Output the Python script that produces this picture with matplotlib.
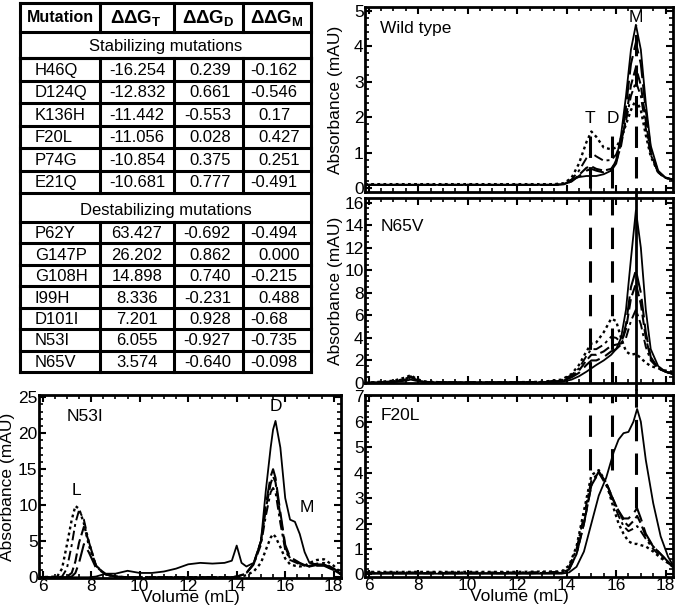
import matplotlib
matplotlib.use('Agg')
import matplotlib.pyplot as plt
from matplotlib.ticker import MultipleLocator, AutoMinorLocator

plt.rcParams['font.family'] = ['Liberation Sans', 'DejaVu Sans']
plt.rcParams['mathtext.fontset'] = 'custom'
plt.rcParams['mathtext.rm'] = 'Liberation Sans'
plt.rcParams['mathtext.bf'] = 'Liberation Sans:bold'

# ---- table data ----
stab_names = ['H46Q', 'D124Q', 'K136H', 'F20L', 'P74G', 'E21Q']
stab_t = ['-16.254', '-12.832', '-11.442', '-11.056', '-10.854', '-10.681']
stab_d = ['0.239', '0.661', '-0.553', '0.028', '0.375', '0.777']
stab_m = ['-0.162', '-0.546', '0.17', '0.427', '0.251', '-0.491']
destab_names = ['P62Y', 'G147P', 'G108H', 'I99H', 'D101I', 'N53I', 'N65V']
destab_t = ['63.427', '26.202', '14.898', '8.336', '7.201', '6.055', '3.574']
destab_d = ['-0.692', '0.862', '0.740', '-0.231', '0.928', '-0.927', '-0.640']
destab_m = ['-0.494', '0.000', '-0.215', '0.488', '-0.68', '-0.735', '-0.098']

# ---- chromatograms (volume in mL, absorbance in mAU) ----
wt_x = [5.85, 8, 10, 12, 13.5, 13.9, 14.2, 14.5, 14.8, 15.0, 15.2, 15.5, 15.8, 16.0,
        16.2, 16.4, 16.6, 16.8, 17.0, 17.2, 17.4, 17.7, 18.0, 18.3]
wt_y = [
    [0.1, 0.1, 0.1, 0.1, 0.1, 0.12, 0.25, 0.32, 0.35, 0.35, 0.35, 0.4, 0.5, 0.8,
     1.5, 2.6, 3.9, 4.6, 3.9, 2.4, 1.2, 0.5, 0.3, 0.25],
    [0.1, 0.1, 0.1, 0.1, 0.1, 0.12, 0.2, 0.35, 0.5, 0.55, 0.5, 0.45, 0.5, 0.7,
     1.3, 2.3, 3.5, 4.1, 3.5, 2.2, 1.1, 0.45, 0.3, 0.25],
    [0.1, 0.1, 0.1, 0.1, 0.1, 0.12, 0.2, 0.38, 0.58, 0.62, 0.55, 0.5, 0.55, 0.75,
     1.2, 2.0, 2.9, 3.4, 2.9, 1.9, 1.0, 0.45, 0.3, 0.25],
    [0.1, 0.1, 0.1, 0.1, 0.1, 0.13, 0.25, 0.5, 0.85, 1.0, 0.9, 0.78, 0.8, 0.95,
     1.3, 1.9, 2.6, 3.0, 2.6, 1.7, 0.95, 0.45, 0.3, 0.25],
    [0.12, 0.12, 0.12, 0.12, 0.12, 0.15, 0.3, 0.7, 1.3, 1.6, 1.45, 1.15, 1.1, 1.15,
     1.4, 1.8, 2.2, 2.5, 2.2, 1.5, 0.9, 0.45, 0.3, 0.25],
]

n65_x = [5.85, 7.0, 7.5, 7.7, 7.9, 8.2, 9, 11, 13, 13.8, 14.2, 14.5, 14.8, 15.0, 15.2,
         15.5, 15.8, 16.0, 16.2, 16.4, 16.6, 16.8, 17.0, 17.2, 17.4, 17.7, 18.0, 18.3]
n65_y = [
    [0, 0.1, 0.2, 0.3, 0.2, 0.1, 0.05, 0.05, 0.05, 0.1, 0.3, 0.6, 1.0, 1.3, 1.6,
     2.0, 2.5, 3.0, 4.0, 6.5, 11.0, 15.3, 12.0, 6.5, 3.0, 1.5, 1.0, 0.8],
    [0, 0.1, 0.3, 0.5, 0.3, 0.1, 0.05, 0.05, 0.05, 0.15, 0.5, 0.9, 1.6, 2.0, 2.0,
     2.3, 2.8, 3.0, 3.4, 5.2, 8.5, 10.0, 8.0, 4.5, 2.3, 1.3, 1.0, 0.8],
    [0, 0.1, 0.3, 0.5, 0.3, 0.1, 0.05, 0.05, 0.05, 0.2, 0.6, 1.1, 2.0, 2.5, 2.5,
     2.8, 3.3, 3.4, 3.5, 4.8, 7.5, 8.8, 7.0, 4.0, 2.2, 1.3, 1.0, 0.8],
    [0, 0.15, 0.4, 0.6, 0.35, 0.1, 0.05, 0.05, 0.1, 0.25, 0.7, 1.3, 2.4, 3.0, 3.0,
     3.4, 4.1, 4.0, 3.6, 4.0, 5.5, 6.5, 5.2, 3.2, 2.0, 1.3, 1.0, 0.8],
    [0, 0.2, 0.5, 0.7, 0.4, 0.15, 0.05, 0.05, 0.1, 0.3, 0.8, 1.6, 2.8, 3.5, 3.6,
     4.5, 5.7, 5.5, 4.0, 2.8, 2.5, 2.6, 2.2, 1.8, 1.5, 1.3, 1.1, 1.0],
]

n53_x = [5.85, 6.6, 6.8, 7.0, 7.2, 7.35, 7.5, 7.7, 7.9, 8.2, 8.6, 9.0, 9.5, 10.0, 10.5,
         11.0, 11.5, 12.0, 12.5, 13.0, 13.5, 13.8, 14.0, 14.2, 14.4, 14.7, 15.0, 15.2,
         15.4, 15.5, 15.6, 15.8, 16.0, 16.2, 16.4, 16.6, 16.8, 17.0, 17.3, 17.6, 18.0, 18.3]
n53_y = [
    [0, 0, 0, 0, 0, 0, 0, 0, 0, 0.1, 0.5, 0.5, 0.9, 0.6, 0.6,
     0.8, 1.2, 1.8, 2.0, 1.9, 2.0, 2.3, 4.4, 2.0, 1.5, 2.0, 5.0, 12.0,
     18.0, 20.5, 21.7, 18.0, 11.0, 8.0, 7.7, 6.0, 3.5, 2.0, 1.8, 1.8, 1.2, 0.5],
    [0, 0, 0, 0, 0.1, 0.6, 2.0, 4.6, 3.5, 1.3, 0.4, 0.1, 0, 0, 0,
     0, 0, 0, 0, 0, 0, 0, 0.1, 0.3, 0.6, 1.8, 5.0, 10.0,
     14.0, 15.0, 13.8, 9.0, 4.5, 2.8, 2.4, 2.0, 1.7, 1.5, 1.6, 1.6, 1.0, 0.4],
    [0, 0, 0, 0.1, 0.6, 2.2, 4.8, 7.0, 5.0, 1.6, 0.4, 0.1, 0, 0, 0,
     0, 0, 0, 0, 0, 0, 0, 0.1, 0.3, 0.6, 1.9, 5.0, 9.5,
     13.0, 14.0, 13.2, 8.5, 4.2, 2.6, 2.3, 1.9, 1.7, 1.5, 1.7, 1.7, 1.0, 0.4],
    [0, 0, 0.1, 1.2, 4.5, 7.5, 9.3, 8.0, 5.0, 1.6, 0.4, 0.1, 0, 0, 0,
     0, 0, 0, 0, 0, 0, 0, 0.1, 0.3, 0.6, 1.8, 4.5, 8.5,
     11.8, 12.4, 11.8, 7.5, 3.8, 2.4, 2.1, 1.8, 1.6, 1.6, 1.9, 2.0, 1.2, 0.5],
    [0, 0.1, 1.2, 4.5, 8.0, 9.9, 9.5, 7.5, 4.5, 1.5, 0.4, 0.1, 0, 0, 0,
     0, 0, 0, 0, 0, 0, 0, 0, 0.1, 0.3, 0.8, 2.0, 3.8,
     5.5, 6.0, 5.6, 4.2, 2.6, 1.8, 1.6, 1.5, 1.6, 2.0, 2.4, 2.5, 1.6, 0.6],
]

f20_x = [5.85, 8, 10, 12, 13.8, 14.1, 14.4, 14.7, 15.0, 15.3, 15.6, 15.9, 16.1, 16.3,
         16.5, 16.7, 16.85, 17.0, 17.2, 17.5, 17.8, 18.1, 18.3]
f20_y = [
    [0.03, 0.03, 0.03, 0.03, 0.03, 0.08, 0.3, 0.9, 2.0, 3.1, 3.8, 4.8, 5.3, 5.55,
     5.6, 6.0, 6.5, 6.0, 4.5, 2.8, 1.5, 0.7, 0.35],
    [0.05, 0.05, 0.05, 0.05, 0.06, 0.2, 0.8, 2.0, 3.5, 4.05, 3.6, 2.9, 2.5, 2.2,
     2.2, 2.4, 2.6, 2.2, 1.6, 1.1, 0.8, 0.5, 0.3],
    [0.05, 0.05, 0.05, 0.05, 0.06, 0.2, 0.8, 2.0, 3.5, 4.0, 3.6, 2.9, 2.5, 2.1,
     1.9, 2.1, 2.3, 2.0, 1.5, 1.1, 0.8, 0.5, 0.3],
    [0.08, 0.08, 0.08, 0.08, 0.1, 0.3, 1.0, 2.3, 3.7, 4.0, 3.5, 2.8, 2.3, 1.9,
     1.7, 1.8, 1.9, 1.7, 1.4, 1.0, 0.7, 0.45, 0.3],
    [0.1, 0.1, 0.1, 0.1, 0.12, 0.35, 1.1, 2.5, 3.9, 4.1, 3.6, 2.6, 2.0, 1.6,
     1.3, 1.2, 1.2, 1.15, 1.1, 0.9, 0.65, 0.45, 0.3],
]

peaks = {'T': 14.95, 'D': 15.85, 'M': 16.8}

styles = ['-', (0, (9, 3)), (0, (5, 2)), (0, (5, 2, 1.5, 2)), (0, (1.2, 1.4))]
widths = [1.3, 1.5, 1.5, 1.4, 1.7]

W, H = 678, 611
fig = plt.figure(figsize=(W / 100, H / 100), dpi=100)

def px_axes(l, t, r, b):
    return fig.add_axes([l / W, 1 - b / H, (r - l) / W, (b - t) / H])

def style_axes(ax, ymax, ystep, yminor, ymin=0):
    ax.set_xlim(5.85, 18.3)
    ax.set_ylim(ymin, ymax)
    ax.xaxis.set_major_locator(MultipleLocator(2))
    ax.xaxis.set_minor_locator(AutoMinorLocator(4))
    ax.yaxis.set_major_locator(MultipleLocator(ystep))
    ax.yaxis.set_minor_locator(AutoMinorLocator(yminor))
    ax.tick_params(which='both', direction='in', top=True, right=True, labelsize=12.5, pad=1)
    ax.tick_params(which='major', length=5, width=1.5)
    ax.tick_params(which='minor', length=3, width=1.2)
    for s in ax.spines.values():
        s.set_linewidth(2)

def draw_curves(ax, xs, ys):
    for y, ls, lw in zip(ys, styles, widths):
        ax.plot(xs, y, color='black', linestyle=ls, linewidth=lw)

# wild type
ax1 = px_axes(365, 7, 673, 192)
draw_curves(ax1, wt_x, wt_y)
style_axes(ax1, 5.1, 1, 5, ymin=-0.1)
ax1.set_xticklabels([])
ax1.vlines([peaks['T'], peaks['D']], 0, [1.6, 1.55], colors='black', linestyles=(0, (7, 3)), linewidth=2.2)
ax1.vlines(peaks['M'], 0.3, 4.6, colors='black', linestyles=(0, (7, 3)), linewidth=2.2)
ax1.text(peaks['T'], 1.75, 'T', ha='center', va='bottom', fontsize=12.5)
ax1.text(peaks['D'], 1.75, 'D', ha='center', va='bottom', fontsize=12.5)
ax1.text(peaks['M'], 4.6, 'M', ha='center', va='bottom', fontsize=12.5)
ax1.text(0.05, 0.86, 'Wild type', transform=ax1.transAxes, fontsize=12.5)
ax1.set_ylabel('Absorbance (mAU)', fontsize=12.5)
ax1.yaxis.set_label_coords(-0.073, 0.5)

# N65V
ax2 = px_axes(365, 198, 673, 383)
draw_curves(ax2, n65_x, n65_y)
style_axes(ax2, 16.4, 2, 4)
ax2.set_xticklabels([])
ax2.axvline(peaks['T'], color='black', linestyle=(0, (7, 4)), linewidth=2.2)
ax2.axvline(peaks['D'], color='black', linestyle=(0, (7, 4)), linewidth=2.2)
ax2.axvline(peaks['M'], ymin=-0.03, ymax=1.05, color='black', linewidth=2, clip_on=False)
ax2.text(0.05, 0.82, 'N65V', transform=ax2.transAxes, fontsize=12.5)
ax2.set_ylabel('Absorbance (mAU)', fontsize=12.5)
ax2.yaxis.set_label_coords(-0.073, 0.5)

# N53I
ax3 = px_axes(39, 395, 341, 578)
draw_curves(ax3, n53_x, n53_y)
style_axes(ax3, 25.3, 5, 5, ymin=-0.1)
ax3.text(7.4, 11.0, 'L', ha='center', va='bottom', fontsize=12.5)
ax3.text(15.6, 22.6, 'D', ha='center', va='bottom', fontsize=12.5)
ax3.text(16.9, 8.7, 'M', ha='center', va='bottom', fontsize=12.5)
ax3.text(0.09, 0.86, 'N53I', transform=ax3.transAxes, fontsize=12.5)
ax3.set_ylabel('Absorbance (mAU)', fontsize=12.5)
ax3.yaxis.set_label_coords(-0.078, 0.5)
ax3.set_xlabel('Volume (mL)', fontsize=12.5, labelpad=-3)

# F20L
ax4 = px_axes(365, 395, 673, 577)
draw_curves(ax4, f20_x, f20_y)
style_axes(ax4, 7.05, 1, 5, ymin=-0.1)
ax4.vlines([peaks['T'], peaks['D']], 4.1, 7.05, colors='black', linestyles=(0, (7, 4)), linewidth=2.2)
ax4.vlines(peaks['M'], 2.6, 7.05, colors='black', linestyles=(0, (7, 4)), linewidth=2.2)
ax4.axvline(peaks['M'], ymin=0.97, ymax=1.03, color='black', linewidth=2, clip_on=False)
ax4.text(0.05, 0.86, 'F20L', transform=ax4.transAxes, fontsize=12.5)
ax4.set_xlabel('Volume (mL)', fontsize=12.5, labelpad=-3)

# table drawn in pixel coordinates
tab = fig.add_axes([0, 0, 1, 1])
tab.set_xlim(0, W)
tab.set_ylim(H, 0)
tab.axis('off')
cols = [20, 100, 174, 243, 311]
lw = 2.2
top, hdr, stab_hdr = 3, 32, 58
stab_rows = [58 + 22.5 * i for i in range(7)]
destab_top = stab_rows[-1]
destab_rows = [222 + 21.43 * i for i in range(8)]
bottom = destab_rows[-1]

for yy in [top, hdr, stab_hdr] + stab_rows + destab_rows:
    tab.plot([cols[0], cols[-1]], [yy, yy], color='black', lw=lw, solid_capstyle='projecting')
for xx in [cols[0], cols[-1]]:
    tab.plot([xx, xx], [top, bottom], color='black', lw=lw)
for xx in cols[1:-1]:
    tab.plot([xx, xx], [top, hdr], color='black', lw=lw)
    tab.plot([xx, xx], [stab_rows[0], stab_rows[-1]], color='black', lw=lw)
    tab.plot([xx, xx], [destab_rows[0], destab_rows[-1]], color='black', lw=lw)

fs = 12
hy = (top + hdr) / 2
tab.text(60, hy, 'Mutation', ha='center', va='center', fontsize=11.5, fontweight='bold')
tab.text(136, hy, r'$\mathbf{\Delta\Delta G_T}$', ha='center', va='center', fontsize=13.5)
tab.text(208, hy, r'$\mathbf{\Delta\Delta G_D}$', ha='center', va='center', fontsize=13.5)
tab.text(277, hy, r'$\mathbf{\Delta\Delta G_M}$', ha='center', va='center', fontsize=13.5)
tab.text(166, (hdr + stab_hdr) / 2 + 1, 'Stabilizing mutations', ha='center', va='center', fontsize=fs)
tab.text(166, (destab_top + destab_rows[0]) / 2 + 3, 'Destabilizing mutations', ha='center', va='center', fontsize=fs)

def fill_rows(rows, names, tv, dv, mv):
    for i in range(len(names)):
        yc = (rows[i] + rows[i + 1]) / 2 + 1
        tab.text(35, yc, names[i], ha='left', va='center', fontsize=fs)
        tab.text(137, yc, tv[i], ha='center', va='center', fontsize=fs)
        tab.text(231, yc, dv[i], ha='right', va='center', fontsize=fs)
        xm = 250 if mv[i].startswith('-') else 258
        tab.text(xm, yc, mv[i], ha='left', va='center', fontsize=fs)

fill_rows(stab_rows, stab_names, stab_t, stab_d, stab_m)
fill_rows(destab_rows, destab_names, destab_t, destab_d, destab_m)

fig.savefig('out.png', dpi=100)
